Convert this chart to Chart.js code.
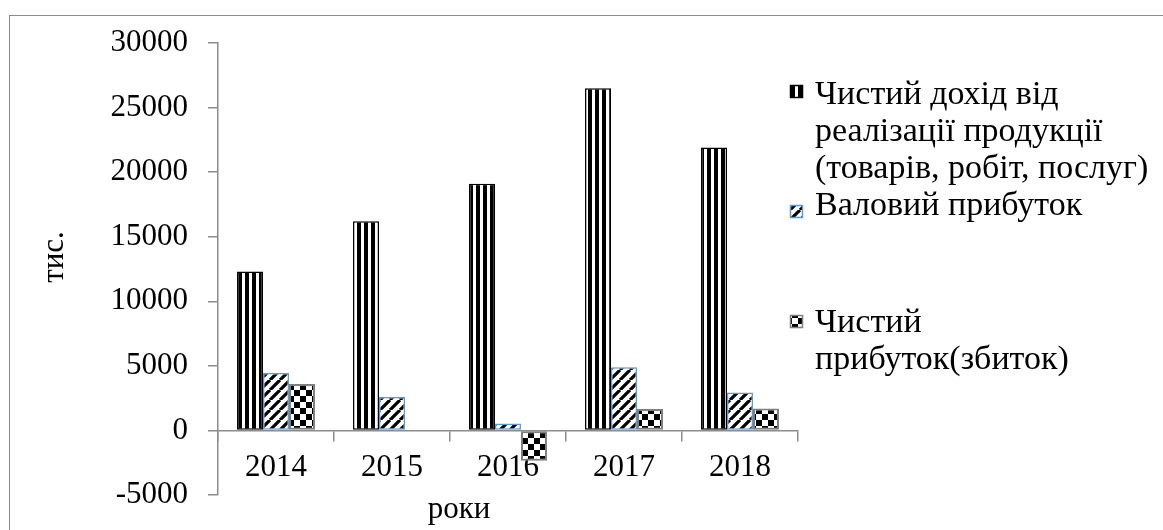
<!DOCTYPE html>
<html><head><meta charset="utf-8">
<script src="https://cdn.jsdelivr.net/npm/chart.js@4.4.1/dist/chart.umd.min.js"></script>
<style>html,body{margin:0;padding:0;background:#fff;} canvas{display:block;}</style>
</head><body>
<canvas id="c" width="1163" height="530"></canvas>
<script>
const categories = ['2014', '2015', '2016', '2017', '2018'];
const revenue = [12300, 16200, 19100, 26500, 21900];
const grossProfit = [4450, 2580, 540, 4900, 2940];
const netProfit = [3600, 60, -2350, 1650, 1700];
const yTickValues = [-5000, 0, 5000, 10000, 15000, 20000, 25000, 30000];
const seriesNames = ['Чистий дохід від реалізації продукції (товарів, робіт, послуг)', 'Валовий прибуток', 'Чистий прибуток(збиток)'];
const legendLines = [['Чистий дохід від', 'реалізації продукції', '(товарів, робіт, послуг)'], ['Валовий прибуток'], ['Чистий', 'прибуток(збиток)']];
const yTitle = 'тис.';
const xTitle = 'роки';

const FONT = "'Liberation Serif', 'Times New Roman', serif";
const canvas = document.getElementById('c');
const ctx = canvas.getContext('2d');

function makeTile(size, draw) {
  const c = document.createElement('canvas');
  c.width = size; c.height = size;
  const g = c.getContext('2d');
  g.fillStyle = '#fff'; g.fillRect(0, 0, size, size);
  g.fillStyle = '#000'; g.strokeStyle = '#000';
  draw(g, size);
  return ctx.createPattern(c, 'repeat');
}
const pStripe = makeTile(7, (g) => { g.fillRect(0, 0, 4, 7); });
const pDiag = makeTile(10, (g, s) => {
  g.lineWidth = 3.2; g.beginPath();
  for (const o of [-s, 0, s]) { g.moveTo(o, s); g.lineTo(o + s, 0); }
  g.stroke();
});
const pCheck = makeTile(12, (g) => { g.fillRect(0, 0, 6, 6); g.fillRect(6, 6, 6, 6); });

const patterns = [pStripe, pDiag, pCheck];
const borders = ['#000000', '#5B9BD5', '#7f7f7f'];

const decorPlugin = {
  id: 'decor',
  beforeDraw(chart) {
    const g = chart.ctx;
    g.save();
    g.fillStyle = '#fff';
    g.fillRect(0, 0, chart.width, chart.height);
    g.strokeStyle = '#8c8c8c';
    g.lineWidth = 1;
    g.strokeRect(9.5, 15.5, chart.width + 20, chart.height + 20);
    g.restore();
  },
  afterDraw(chart) {
    const g = chart.ctx;
    const a = chart.chartArea;
    g.save();
    g.fillStyle = '#000';
    g.font = '31px ' + FONT;
    // axis titles
    g.textAlign = 'center';
    g.textBaseline = 'alphabetic';
    g.fillText(xTitle, a.left + 241, a.bottom + 23);
    g.save();
    g.translate(63, 257);
    g.rotate(-Math.PI / 2);
    g.fillText(yTitle, 0, 0);
    g.restore();
    // legend
    g.font = '34px ' + FONT;
    const mx = a.right - 8;
    const tx = a.right + 17;
    const markerTops = [85, 205, 315];
    const baselines = [[104, 141, 178], [215], [332, 369]];
    g.textAlign = 'left';
    for (let i = 0; i < legendLines.length; i++) {
      g.fillStyle = patterns[i];
      g.fillRect(mx, markerTops[i], 13, 13);
      g.strokeStyle = borders[i];
      g.lineWidth = 1.5;
      g.strokeRect(mx + 0.5, markerTops[i] + 0.5, 12, 12);
      g.fillStyle = '#000';
      legendLines[i].forEach((t, j) => g.fillText(t, tx, baselines[i][j]));
    }
    g.restore();
  }
};

new Chart(ctx, {
  type: 'bar',
  data: {
    labels: categories,
    datasets: [
      { label: seriesNames[0], data: revenue, backgroundColor: patterns[0], borderColor: borders[0], borderWidth: 1.5, borderSkipped: false },
      { label: seriesNames[1], data: grossProfit, backgroundColor: patterns[1], borderColor: borders[1], borderWidth: 1.5, borderSkipped: false },
      { label: seriesNames[2], data: netProfit, backgroundColor: patterns[2], borderColor: borders[2], borderWidth: 2, borderSkipped: false }
    ]
  },
  options: {
    responsive: false,
    animation: false,
    devicePixelRatio: 1,
    layout: { padding: { left: 0, top: 43, right: 365, bottom: 35 } },
    datasets: { bar: { categoryPercentage: 0.672, barPercentage: 1 } },
    plugins: { legend: { display: false }, tooltip: { enabled: false }, title: { display: false } },
    scales: {
      x: {
        position: { y: 0 },
        z: 1,
        offset: true,
        grid: { display: true, offset: true, drawOnChartArea: false, drawTicks: true, tickLength: 10, color: '#8c8c8c', lineWidth: 1.5 },
        border: { display: true, color: '#8c8c8c', width: 1.5 },
        ticks: { font: { family: FONT, size: 31 }, color: '#000', padding: 9, maxRotation: 0, autoSkip: false },
        afterFit: (s) => { s.height = 0; s.paddingBottom = 0; s.paddingTop = 0; }
      },
      y: {
        min: -5000,
        max: 30000,
        afterBuildTicks: (s) => { s.ticks = yTickValues.map(v => ({ value: v })); },
        grid: { drawOnChartArea: false, tickLength: 10, color: '#8c8c8c', lineWidth: 1.5 },
        border: { color: '#8c8c8c', width: 1.5 },
        ticks: { font: { family: FONT, size: 31 }, color: '#000', padding: 20, callback: (v) => String(v) },
        afterFit: (s) => { s.width = 218; s.paddingTop = 0; s.paddingBottom = 0; }
      }
    }
  },
  plugins: [decorPlugin]
});
</script>
</body></html>
